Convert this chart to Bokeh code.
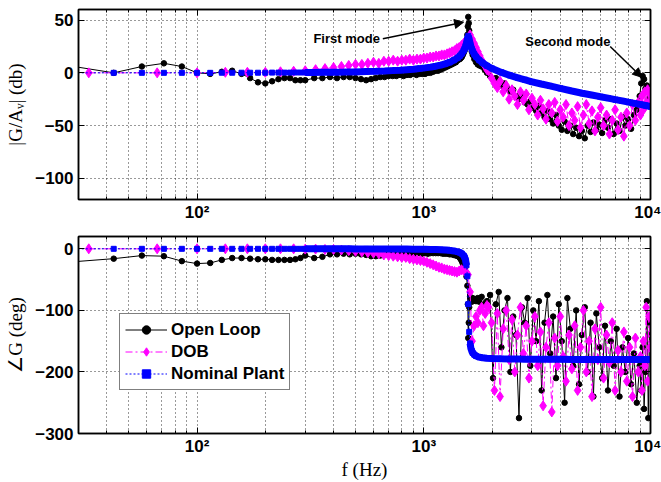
from bokeh.plotting import figure
from bokeh.layouts import column
from bokeh.models import (FixedTicker, LinearAxis, LogAxis, Legend, LegendItem,
                          Label, Arrow, NormalHead, Range1d)
from bokeh.embed import file_html
from bokeh.resources import INLINE

# ---------------- data ----------------
# Open loop (black) frequency grid, Hz
f_open = [28.6, 42.9, 57.1, 71.4, 85.7, 100, 114.3, 128.6, 142.9, 157.1, 171.4, 185.7, 200, 214.3, 228.6, 242.9, 257.1, 271.4, 285.7,
          300, 328.6, 357.1, 385.7, 414.3, 442.9, 471.4, 500, 528.6, 557.1, 585.7, 614.3, 642.9, 671.4, 700, 728.6, 757.1, 785.7, 814.3, 842.9, 871.4, 900, 928.6, 957.1, 985.7,
          1014, 1043, 1071, 1100, 1129, 1157, 1186, 1214, 1243, 1271, 1300, 1329, 1357, 1386, 1414,
          1443, 1457, 1471, 1486, 1500, 1514, 1529, 1543, 1557, 1564, 1571, 1579, 1586, 1600, 1614, 1629, 1643, 1671, 1700, 1729, 1757, 1800, 1857,
          1900, 1960, 2020, 2080, 2140, 2200, 2270, 2340, 2410, 2480,
          2550, 2630, 2710, 2790, 2870, 2950, 3040, 3130, 3220, 3310,
          3410, 3510, 3610, 3720, 3830, 3940, 4060, 4180, 4300, 4430,
          4560, 4700, 4840, 4980, 5130, 5280, 5440, 5600, 5770, 5940,
          6120, 6300, 6490, 6680, 6880, 7090, 7300, 7520, 7740, 7970,
          8210, 8450, 8700, 8960, 9100, 9230, 9370, 9500, 9640, 9780,
          9900, 10000]
mag_open = [6, 0, 6, 9, 6, 0, -1, 1, 2, -1, -5, -9, -10, -8, -6, -5, -5, -7, -7,
            -7, -5, -5, -4, -5, -4, -4, -5, -6, -7, -6, -5, -4, -4, -3, -3, -3, -2, -3, -2, -2, -1, -2, -1, -1,
            -1, 0, 0, 1, 2, 2, 3, 4, 5, 6, 7, 8, 9, 10, 12,
            13, 14, 15, 17, 19, 21, 24, 28, 36, 44, 53, 47, 40, 30, 25, 20, 17, 13, 10, 8, 7, 6, 3,
            0, -3, -6, -5, -9, -12, -10, -15, -18, -16,
            -22, -25, -21, -28, -30, -27, -33, -36, -31, -38,
            -42, -36, -44, -48, -40, -50, -54, -46, -55, -50,
            -58, -52, -60, -55, -62, -50, -56, -47, -54, -49,
            -57, -45, -52, -44, -58, -48, -55, -42, -50, -44,
            -53, -40, -35, -22, -10, -3, -6, -15, -12, -25,
            -20, -28]
ph_open = [-21, -16, -11, -12, -20, -24, -23, -18, -15, -15, -16, -17, -17, -18, -18, -18, -18, -17, -15,
           -11, -15, -13, -9, -9, -8, -9, -8, -9, -10, -12, -12, -11, -10, -9, -9, -8, -9, -8, -8, -9, -8, -8, -7, -8,
           -7, -8, -7, -7, -7, -7, -7, -8, -8, -8, -9, -9, -10, -11, -12,
           -15, -17, -20, -24, -28, -33, -38, -45, -60, -90, -145, -120, -95, -78, -82, -86, -80, -83, -85, -80, -86, -78, -90,
           -85, -75, -210, -90, -70, -160, -100, -80, -200, -110,
           -140, -275, -95, -120, -80, -190, -100, -150, -85, -230,
           -120, -75, -170, -110, -210, -90, -150, -250, -80, -130,
           -190, -100, -220, -140, -95, -200, -120, -240, -105, -160,
           -210, -125, -230, -150, -190, -130, -240, -160, -200, -145,
           -220, -170, -250, -190, -230, -160, -260, -200, -85, -275,
           -120, -180]

# DOB (magenta) frequency grid, Hz
f_dob = [33.3, 66.7, 100, 133.3, 166.7, 200, 233.3, 266.7, 300, 333.3, 366.7, 400,
         433.3, 466.7, 500, 533.3, 566.7, 600, 633.3, 666.7, 700, 733.3, 766.7, 800, 833.3, 866.7, 900, 933.3, 966.7, 1000,
         1033, 1067, 1100, 1133, 1167, 1200, 1233, 1267, 1300, 1333, 1367, 1400, 1433, 1467, 1500, 1533, 1567,
         1600, 1633, 1667, 1700, 1733, 1767, 1800, 1833, 1867, 1900,
         1930, 1990, 2050, 2110, 2170, 2240, 2310, 2380, 2450, 2520,
         2590, 2670, 2750, 2830, 2910, 3000, 3090, 3180, 3270, 3360,
         3460, 3560, 3670, 3780, 3890, 4000, 4120, 4240, 4370, 4500,
         4630, 4770, 4910, 5060, 5210, 5360, 5520, 5690, 5860, 6030,
         6210, 6400, 6590, 6780, 6980, 7190, 7410, 7630, 7860, 8090,
         8330, 8580, 8830, 9030, 9170, 9300, 9440, 9570, 9710, 9840,
         9950]
mag_dob = [0, 0, 0, 0.5, 0.5, 0.5, 1, 1.5, 2, 3, 4, 5,
           6, 7, 8, 8, 9, 10, 9, 11, 11, 12, 11, 12, 12, 13, 12, 13, 13, 14,
           14, 15, 15, 16, 16, 17, 17, 18, 19, 20, 21, 23, 24, 26, 28, 30, 33,
           36, 32, 28, 24, 20, 16, 12, 9, 6, 3,
           2, -5, -10, -14, -8, -18, -12, -25, -16, -22,
           -30, -18, -26, -20, -35, -24, -30, -40, -26, -34,
           -44, -30, -38, -28, -46, -35, -42, -30, -50, -38,
           -45, -32, -52, -40, -30, -48, -36, -55, -42, -33,
           -50, -40, -58, -45, -35, -54, -42, -60, -38, -50,
           -30, -45, -28, -40, -22, -35, -18, -28, -16, -30,
           -20]
ph_dob = [0, 0, 0, 0, 0, 0, 0, 0, -0.5, -0.5, -1, -1,
          -2, -3, -4, -5, -6, -7, -8, -10, -11, -12, -13, -14, -14, -16, -17, -18, -19, -20,
          -22, -24, -26, -28, -30, -31, -33, -34, -35, -36, -37, -38, -36, -34, -35, -38, -42,
          -70, -150, -125, -110, -120, -100, -95, -125, -105, -92,
          -95, -120, -230, -105, -240, -130, -100, -180, -115, -200,
          -140, -95, -170, -125, -210, -150, -110, -190, -135, -255,
          -160, -120, -265, -145, -190, -110, -175, -215, -140, -195,
          -125, -230, -160, -100, -200, -150, -240, -130, -180, -95,
          -210, -140, -185, -120, -230, -165, -200, -135, -215, -160,
          -240, -145, -200, -175, -230, -150, -190, -95, -215, -110,
          -160]

# Nominal plant (blue) frequency grid, Hz
f_nom = [28.6, 42.9, 57.1, 71.4, 85.7, 100, 114.3, 128.6, 142.9, 157.1, 171.4, 185.7, 200, 214.3, 228.6, 242.9, 257.1, 271.4, 285.7,
         300, 328.6, 357.1, 385.7, 414.3, 442.9, 471.4,
         500, 557.1, 614.3, 671.4, 728.6, 785.7, 842.9, 900,
         957.1, 1014, 1071, 1129, 1186, 1243, 1300, 1357,
         1414, 1443, 1471, 1500, 1514, 1529, 1543, 1557,
         1571, 1586, 1600, 1614, 1629, 1643, 1671, 1700,
         1757, 1814, 1900, 2000, 2200, 2400,
         2600, 2800, 3000, 3300, 3600, 4000, 4500, 5000,
         5500, 6000, 6500, 7000, 7500, 8000, 8500, 9000, 9500, 10000]
mag_nom = [0, 0, 0, 0, 0, 0, 0, 0.1, 0.1, 0.1, 0.1, 0.1, 0.1, 0.2, 0.2, 0.2, 0.2, 0.3, 0.3,
           0.3, 0.4, 0.5, 0.5, 0.6, 0.7, 0.8,
           0.9, 1.2, 1.4, 1.7, 2.1, 2.5, 3.0, 3.5,
           4.0, 4.7, 5.4, 6.3, 7.3, 8.5, 10.0, 12.0,
           14.4, 16.1, 18.2, 21.1, 22.9, 25.3, 28.1, 31.9,
           35.0, 31.7, 28.1, 25.0, 22.4, 20.5, 17.6, 15.3,
           12.0, 9.5, 6.7, 4.1, 0.4, -2.4,
           -4.7, -6.6, -8.5, -10.6, -12.4, -14.7, -17.2, -19.3,
           -21.0, -22.6, -24.0, -25.4, -26.6, -27.8, -28.9, -29.9, -30.9, -31.9]
ph_nom = [0, 0, 0, 0, 0, 0, 0, 0, 0, 0, 0, 0, 0, 0, 0, 0, 0, 0, 0,
          -0.1, -0.1, -0.1, -0.1, -0.1, -0.1, -0.1,
          -0.2, -0.2, -0.3, -0.3, -0.4, -0.4, -0.5, -0.6,
          -0.7, -0.8, -1.0, -1.2, -1.4, -1.8, -2.5, -3.4,
          -4.9, -6.0, -7.8, -11.0, -13.7, -18.3, -26.8, -44.7,
          -90, -135, -153.7, -161.6, -166, -169, -172, -174,
          -176, -177, -177.7, -178.2, -178.7, -179,
          -179.1, -179.2, -179.3, -179.4, -179.5, -179.5, -179.6, -179.6,
          -179.6, -179.7, -179.7, -179.7, -179.7, -179.8, -179.8, -179.8, -179.8, -179.8]

x_major = [100, 1000, 10000]
x_minor = [40, 50, 60, 70, 80, 90, 200, 300, 400, 500, 600, 700, 800, 900,
           2000, 3000, 4000, 5000, 6000, 7000, 8000, 9000]
x_labels = {100: "10²", 1000: "10³", 10000: "10⁴"}
mag_ticks = [-100, -50, 0, 50]
ph_ticks = [-300, -200, -100, 0]
series_names = ["Open Loop", "DOB", "Nominal Plant"]

# ---------------- styling ----------------
SANS = "Liberation Sans"
SERIF = "Liberation Serif"
BLACK = "#000000"
MAGENTA = "#ff00ff"
BLUE = "#0000ff"

xr = Range1d(30, 10000)


def make(height, yr, yticks, top, bottom, ylabel, xlabel=None):
    p = figure(width=661, height=height, x_axis_type="log", x_range=xr,
               y_range=Range1d(*yr), output_backend="svg", toolbar_location=None,
               min_border_left=78, min_border_right=11, min_border_top=top,
               min_border_bottom=bottom)
    xt = FixedTicker(ticks=x_major, minor_ticks=x_minor)
    yt = FixedTicker(ticks=yticks, minor_ticks=[])
    p.xaxis.ticker = xt
    p.xaxis.major_label_overrides = x_labels
    p.yaxis.ticker = yt
    p.yaxis.axis_label = ylabel
    if xlabel:
        p.xaxis.axis_label = xlabel
    for ax in list(p.xaxis) + list(p.yaxis):
        ax.major_label_text_font = SANS
        ax.major_label_text_font_style = "bold"
        ax.major_label_text_font_size = "17px"
        ax.major_label_text_color = BLACK
        ax.axis_label_text_font = SERIF
        ax.axis_label_text_font_style = "normal"
        ax.axis_label_text_font_size = "19px"
        ax.axis_label_text_color = BLACK
        ax.axis_line_color = BLACK
        ax.axis_line_width = 1.5
        ax.major_tick_in = 6
        ax.major_tick_out = 0
        ax.minor_tick_in = 3
        ax.minor_tick_out = 0
        ax.major_tick_line_color = BLACK
        ax.minor_tick_line_color = BLACK
    p.xaxis.major_label_standoff = 3
    p.xaxis.axis_label_standoff = 0
    p.yaxis.major_label_standoff = 5
    p.yaxis.axis_label_standoff = 6
    p.yaxis.minor_tick_line_color = None

    ra = LinearAxis(ticker=yt, major_label_text_font_size="1px", major_label_text_alpha=0,
                    major_label_standoff=0,
                    major_tick_in=6, major_tick_out=0, minor_tick_line_color=None,
                    axis_line_color=BLACK, axis_line_width=1.5)
    p.add_layout(ra, "right")
    ta = LogAxis(ticker=xt, major_label_text_font_size="1px", major_label_text_alpha=0,
                 major_label_standoff=0,
                 major_tick_in=6, major_tick_out=0, minor_tick_in=3, minor_tick_out=0,
                 axis_line_color=BLACK, axis_line_width=1.5)
    p.add_layout(ta, "above")

    for g in (p.xgrid, p.ygrid):
        g.grid_line_color = "#333333"
        g.grid_line_dash = "1 3"
        g.grid_line_width = 1
    p.xgrid.minor_grid_line_color = "#333333"
    p.xgrid.minor_grid_line_dash = "1 3"
    p.xgrid.minor_grid_line_width = 1
    p.outline_line_color = BLACK
    p.outline_line_width = 1.5
    p.background_fill_color = "white"
    p.border_fill_color = "white"
    return p


def draw(p, y_open, y_dob, y_nom, thick_segments):
    r = {}
    r["ol"] = p.line(f_open, y_open, line_color=BLACK, line_width=1)
    r["os"] = p.scatter(f_open, y_open, marker="circle", size=5.5,
                        fill_color=BLACK, line_color=BLACK)
    r["dl"] = p.line(f_dob, y_dob, line_color=MAGENTA, line_width=1, line_dash="7 3 2 3")
    r["ds"] = p.scatter(f_dob, y_dob, marker="diamond", size=10,
                        fill_color=MAGENTA, line_color=MAGENTA)
    for a, b in thick_segments:
        p.line(f_nom[a:b], y_nom[a:b], line_color=BLUE, line_width=7)
    r["nl"] = p.line(f_nom, y_nom, line_color=BLUE, line_width=1, line_dash="2 2")
    r["ns"] = p.scatter(f_nom, y_nom, marker="square", size=5,
                        fill_color=BLUE, line_color=BLUE)
    return r


p1 = make(224, (-120, 60), mag_ticks, 9, 25, "|G/Aᵥ| (db)")
draw(p1, mag_open, mag_dob, mag_nom, [(19, len(f_nom))])

p2 = make(258, (-300, 20), ph_ticks, 12, 48, "∠G (deg)", "f (Hz)")
r2 = draw(p2, ph_open, ph_dob, ph_nom, [(19, 49), (52, len(f_nom))])

legend = Legend(items=[
    LegendItem(label=series_names[0], renderers=[r2["ol"], r2["os"]]),
    LegendItem(label=series_names[1], renderers=[r2["dl"], r2["ds"]]),
    LegendItem(label=series_names[2], renderers=[r2["nl"], r2["ns"]]),
], location=(41, 43))
legend.label_text_font = SANS
legend.label_text_font_style = "bold"
legend.label_text_font_size = "17px"
legend.label_text_color = BLACK
legend.label_height = 21
legend.glyph_height = 21
legend.glyph_width = 42
legend.label_standoff = 4
legend.spacing = 1
legend.padding = 5
legend.margin = 0
legend.border_line_color = BLACK
legend.border_line_width = 1.2
legend.background_fill_alpha = 1
p2.add_layout(legend)

# annotations
p1.add_layout(Label(x=326, y=32.6, text="First mode", text_font=SANS, text_font_style="bold",
                    text_font_size="13px", text_baseline="middle", text_align="left",
                    text_color=BLACK))
p1.add_layout(Arrow(end=NormalHead(size=9, fill_color=BLACK, line_color=BLACK),
                    x_start=660, y_start=32.3, x_end=1498, y_end=48,
                    line_color=BLACK, line_width=1.5))
p1.add_layout(Label(x=2802, y=29.8, text="Second mode", text_font=SANS, text_font_style="bold",
                    text_font_size="13px", text_baseline="middle", text_align="left",
                    text_color=BLACK))
p1.add_layout(Arrow(end=NormalHead(size=9, fill_color=BLACK, line_color=BLACK),
                    x_start=6640, y_start=25, x_end=9154, y_end=-4.2,
                    line_color=BLACK, line_width=1.5))

layout = column(p1, p2, spacing=0)
open("out.html", "w").write(file_html(layout, INLINE))
